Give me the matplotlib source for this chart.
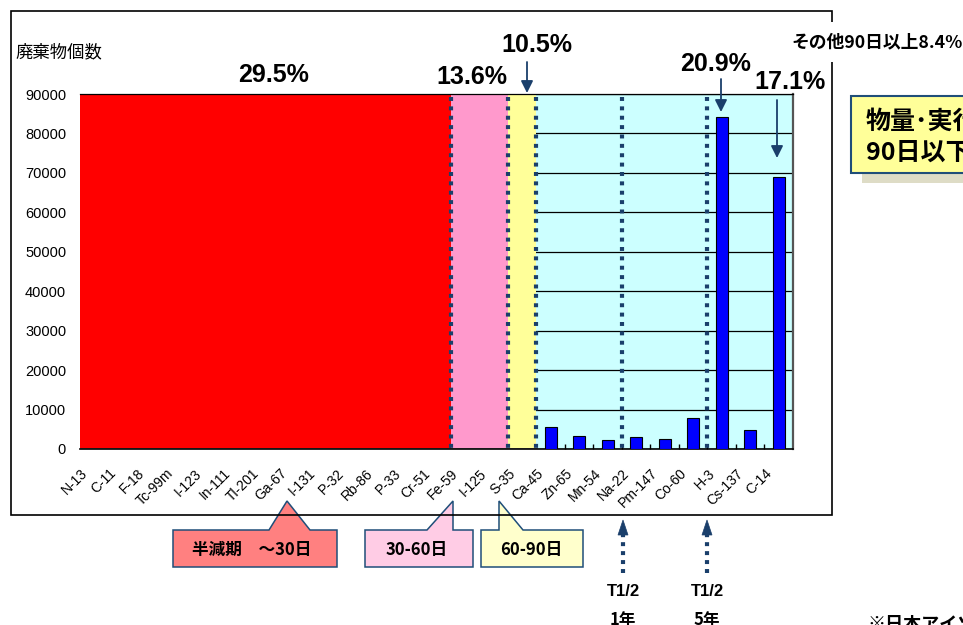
import matplotlib
matplotlib.use('Agg')
import matplotlib.pyplot as plt
from matplotlib.patches import Polygon, Rectangle, FancyArrowPatch
from matplotlib.lines import Line2D
import matplotlib.transforms as mtransforms

# ---------------- data ----------------
nuclides = ['N-13', 'C-11', 'F-18', 'Tc-99m', 'I-123', 'In-111', 'Tl-201', 'Ga-67',
            'I-131', 'P-32', 'Rb-86', 'P-33', 'Cr-51', 'Fe-59', 'I-125', 'S-35',
            'Ca-45', 'Zn-65', 'Mn-54', 'Na-22', 'Pm-147', 'Co-60', 'H-3', 'Cs-137', 'C-14']
bar_nuclides = ['Ca-45', 'Zn-65', 'Mn-54', 'Na-22', 'Pm-147', 'Co-60', 'H-3', 'Cs-137', 'C-14']
bar_counts = [5600, 3300, 2200, 3000, 2500, 7800, 84200, 4800, 69000]
band_short = ['N-13', 'C-11', 'F-18', 'Tc-99m', 'I-123', 'In-111', 'Tl-201', 'Ga-67',
              'I-131', 'P-32', 'Rb-86', 'P-33', 'Cr-51']
band_30_60 = ['Fe-59', 'I-125']
band_60_90 = ['S-35']
yticks = [0, 10000, 20000, 30000, 40000, 50000, 60000, 70000, 80000, 90000]
ymax = 90000
pct_labels = ['29.5%', '13.6%', '10.5%', '20.9%', '17.1%']
other_label = 'その他90日以上8.4%'
y_title = '廃棄物個数'
callout_labels = ['半減期　～30日', '30-60日', '60-90日']
t_half_marks = ['Na-22', 'H-3']          # dotted lines before these nuclides
t_half_texts = ['1年', '5年']

LAT = 'Liberation Sans'
CJK = 'Noto Sans CJK JP'
NAVY = '#1A3F6B'

W, H = 963, 625
fig = plt.figure(figsize=(W / 100, H / 100), dpi=100)
fig.patch.set_facecolor('white')


def P(x, y):
    return (x / W, 1 - y / H)


ax = fig.add_axes([80 / W, 1 - 449 / H, (793 - 80) / W, (449 - 94) / H])
ax.set_facecolor('#CCFFFF')
idx = {n: i for i, n in enumerate(nuclides)}
ax.set_xlim(-0.5, len(nuclides) - 0.5)
ax.set_ylim(0, ymax)
ax.set_yticks(yticks)
ax.set_yticklabels([str(v) for v in yticks], family=LAT, fontsize=10.5)
ax.tick_params(axis='y', length=0, pad=10)
ax.yaxis.grid(True, color='black', lw=0.9)
ax.set_axisbelow(True)

# half-life bands
for band, col in [(band_short, '#FF0000'), (band_30_60, '#FF99CC'), (band_60_90, '#FFFF99')]:
    ax.axvspan(idx[band[0]] - 0.5, idx[band[-1]] + 0.5, color=col, zorder=1, lw=0)
ax.axhline(0, xmin=0, xmax=(idx[band_60_90[-1]] + 1) / len(nuclides), color='#909090', lw=2, zorder=1.5)

# bars
ax.bar([idx[n] for n in bar_nuclides], bar_counts, width=0.42, color='#0000FF',
       edgecolor='black', lw=0.8, zorder=3)

# dotted separators
sep_positions = [idx[band_short[-1]] + 0.5, idx[band_30_60[-1]] + 0.5, idx[band_60_90[-1]] + 0.5] + \
                [idx[n] - 0.5 for n in t_half_marks]
for xs in sep_positions:
    ln = Line2D([xs, xs], [ymax * (1 - 3 / 355), -ymax * 3 / 355], color=NAVY, lw=3,
                linestyle=(0, (0.95, 1.3)), dash_capstyle='butt', zorder=4, clip_on=False)
    ax.add_line(ln)

# x ticks and labels
ax.set_xticks(range(len(nuclides)))
ax.set_xticklabels(nuclides, rotation=45, ha='right', va='center', rotation_mode='anchor',
                   family=LAT, fontsize=10)
ax.tick_params(axis='x', length=0, pad=16)
offset = mtransforms.ScaledTranslation(-9 / 100, 0, fig.dpi_scale_trans)
for lbl in ax.get_xticklabels():
    lbl.set_transform(lbl.get_transform() + offset)
ax.set_xticks([i + 0.5 for i in range(idx[band_60_90[-1]] + 1, len(nuclides) - 1)], minor=True)
ax.tick_params(axis='x', which='minor', direction='in', length=3.5, width=1, color='black')

ax.spines['left'].set_visible(False)
ax.spines['top'].set_linewidth(0.9)
ax.spines['bottom'].set_linewidth(1.2)
ax.spines['right'].set_color('#555555')
ax.spines['right'].set_linewidth(1.6)

# ---------------- figure annotations ----------------
# outer frame
fig.add_artist(Rectangle(P(11, 515), (832 - 11) / W, (515 - 11) / H, fill=False,
                         edgecolor='black', lw=1.2, transform=fig.transFigure, zorder=5))

fig.text(*P(15, 52), y_title, family=CJK, fontsize=12.5, ha='left', va='center')

pct_pos = [(274, 75), (472, 77), (537, 45), (716, 64), (790, 82)]
for t, (x, y) in zip(pct_labels, pct_pos):
    fig.text(*P(x, y), t, family=LAT, fontsize=18, fontweight='bold', ha='center', va='center', zorder=7)

fig.text(*P(877, 42), other_label, family=CJK, fontsize=12.8, fontweight='bold', ha='center',
         va='center', zorder=8, bbox=dict(facecolor='white', edgecolor='none', pad=8))

arrows = [((527, 62), (527, 93)), ((721, 79), (721, 112)), ((777, 100), (777, 158))]
for a, b in arrows:
    fig.add_artist(FancyArrowPatch(P(*a), P(*b), transform=fig.transFigure, arrowstyle='-|>',
                                   mutation_scale=18, color=NAVY, lw=1.3, shrinkA=0, shrinkB=0,
                                   zorder=7))

# right box with shadow
fig.add_artist(Rectangle(P(862, 183), 120 / W, (183 - 107) / H, facecolor='#DEDCC6',
                         edgecolor='none', transform=fig.transFigure, zorder=6))
fig.add_artist(Rectangle(P(851, 173), 130 / W, (173 - 96) / H, facecolor='#FFFF99',
                         edgecolor='#1F4E79', lw=1.5, transform=fig.transFigure, zorder=6.5))
fig.text(*P(866, 122), '物量･実行', family=CJK, fontsize=18, fontweight='bold',
         ha='left', va='center', zorder=7)
fig.text(*P(866, 153), '90日以下', family=CJK, fontsize=18, fontweight='bold',
         ha='left', va='center', zorder=7)

# callouts
callouts = [
    ([(173, 567), (173, 530), (269, 530), (287, 501), (310, 530), (337, 530), (337, 567)], '#FF8080', (252, 550)),
    ([(365, 567), (365, 530), (427, 530), (453, 501), (453, 530), (473, 530), (473, 567)], '#FFCCE5', (417, 550)),
    ([(481, 567), (481, 530), (499, 530), (499, 501), (523, 530), (583, 530), (583, 567)], '#FFFFCC', (531, 550)),
]
for (verts, col, tpos), lab in zip(callouts, callout_labels):
    fig.add_artist(Polygon([P(x, y) for x, y in verts], closed=True, facecolor=col,
                           edgecolor='#1F4E79', lw=1.1, transform=fig.transFigure, zorder=4))
    fig.text(*P(*tpos), lab, family=CJK, fontsize=12, fontweight='bold', ha='center', va='center', zorder=6)

# half-life arrows below
for xpx, t in zip([623, 707], t_half_texts):
    fig.add_artist(Line2D([P(xpx, 573)[0]] * 2, [P(xpx, 573)[1], P(xpx, 534)[1]], color=NAVY,
                          lw=3, linestyle=(0, (0.95, 1.2)), dash_capstyle='butt',
                          transform=fig.transFigure, zorder=6))
    fig.add_artist(Polygon([P(xpx - 5, 535), P(xpx + 5, 535), P(xpx, 520)], closed=True,
                           facecolor=NAVY, edgecolor=NAVY, lw=0.5, transform=fig.transFigure, zorder=6))
    fig.text(*P(xpx, 591), 'T1/2', family=LAT, fontsize=12, fontweight='bold', ha='center', va='center')
    fig.text(*P(xpx, 611), t, family=CJK, fontsize=12, fontweight='bold', ha='center', va='top')

fig.text(*P(868, 615), '※日本アイソトープ協会', family=CJK, fontsize=13, fontweight='bold',
         ha='left', va='top')

fig.savefig('out.png', dpi=100)
